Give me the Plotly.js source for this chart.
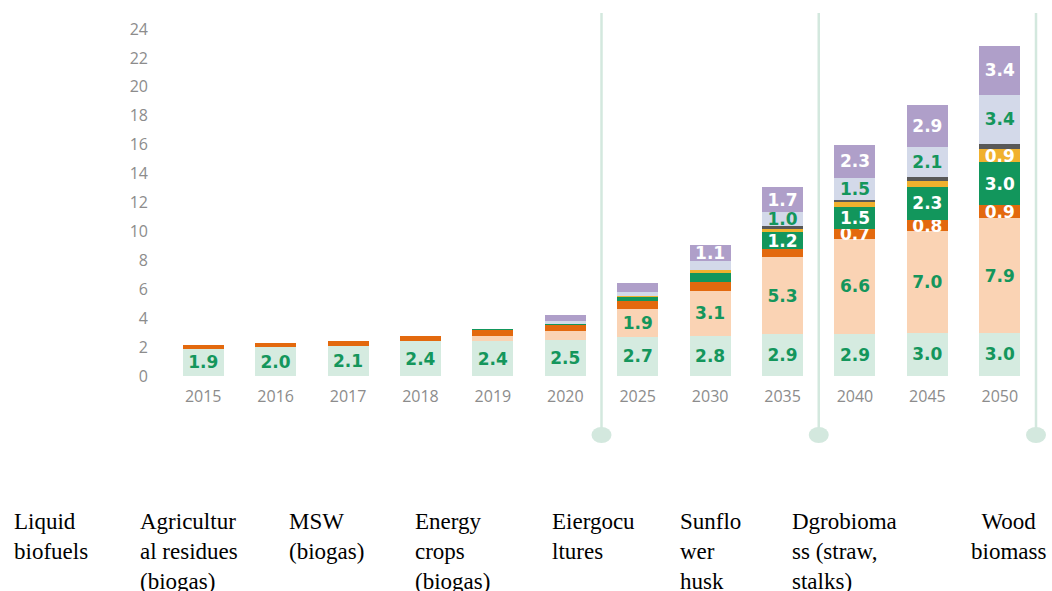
<!DOCTYPE html>
<html>
<head>
<meta charset="utf-8">
<script src="https://cdn.plot.ly/plotly-3.0.1.min.js"></script>
<style>
  html, body { margin: 0; padding: 0; background: #ffffff; }
  #chart { width: 1052px; height: 591px; }
</style>
</head>
<body>
<div id="chart"></div>
<script>
// Years on the category axis
const years = ['2015', '2016', '2017', '2018', '2019', '2020', '2025', '2030', '2035', '2040', '2045', '2050'];

// Bioenergy use by source (stacked bottom to top)
const liquidBiofuels     = [1.9, 2.0, 2.1, 2.4, 2.4, 2.5, 2.7, 2.8, 2.9, 2.9, 3.0, 3.0];
const agriResidues       = [0, 0, 0, 0, 0.35, 0.6, 1.9, 3.1, 5.3, 6.6, 7.0, 7.9];
const mswBiogas          = [0.25, 0.25, 0.35, 0.35, 0.4, 0.42, 0.57, 0.57, 0.55, 0.7, 0.8, 0.9];
const energyCropsBiogas  = [0, 0, 0, 0.05, 0.07, 0.1, 0.3, 0.68, 1.2, 1.5, 2.3, 3.0];
const energyCultures     = [0, 0, 0, 0, 0, 0, 0.03, 0.15, 0.25, 0.35, 0.4, 0.9];
const sunflowerHusk      = [0, 0, 0, 0, 0, 0, 0.04, 0.05, 0.15, 0.15, 0.25, 0.35];
const agrobiomass        = [0, 0, 0, 0, 0, 0.18, 0.3, 0.6, 1.0, 1.5, 2.1, 3.4];
const woodBiomass        = [0, 0, 0, 0, 0, 0.4, 0.58, 1.1, 1.7, 2.3, 2.9, 3.4];

// Caption lines under the chart, one entry per source
const captionLabels = [
  'Liquid<br>biofuels',
  'Agricultur<br>al residues<br>(biogas)',
  'MSW<br>(biogas)',
  'Energy<br>crops<br>(biogas)',
  'Eiergocu<br>ltures',
  'Sunflo<br>wer<br>husk',
  'Dgrobioma<br>ss (straw,<br>stalks)',
  'Wood<br>biomass'
];

// Period dividers sit after these years
const dividerAfter = ['2020', '2035', '2050'];

// ---- styling ----
const GREEN_TEXT = '#14965c';
const series = [
  { name: 'Liquid biofuels',               y: liquidBiofuels,    color: '#d5ebe0', text: GREEN_TEXT },
  { name: 'Agricultural residues (biogas)', y: agriResidues,      color: '#fad3b4', text: GREEN_TEXT },
  { name: 'MSW (biogas)',                   y: mswBiogas,         color: '#e3690e', text: '#ffffff' },
  { name: 'Energy crops (biogas)',          y: energyCropsBiogas, color: '#12965c', text: '#ffffff' },
  { name: 'Energy cultures',                y: energyCultures,    color: '#f0b12e', text: '#ffffff' },
  { name: 'Sunflower husk',                 y: sunflowerHusk,     color: '#585858', text: '#ffffff' },
  { name: 'Agrobiomass (straw, stalks)',    y: agrobiomass,       color: '#d3d9e9', text: GREEN_TEXT },
  { name: 'Wood biomass',                   y: woodBiomass,       color: '#af9fc9', text: '#ffffff' }
];

// Segments thinner than this carry no value label
const MIN_LABELLED = 0.7;
const LABEL_SIZE = 17;

const traces = series.map(s => ({
  type: 'bar',
  name: s.name,
  x: years,
  y: s.y,
  text: s.y.map(v => (v >= MIN_LABELLED ? v.toFixed(1) : '')),
  textposition: 'inside',
  insidetextanchor: 'middle',
  textangle: 0,
  constraintext: 'none',
  textfont: { family: 'DejaVu Sans', size: LABEL_SIZE, weight: 700, color: s.text },
  marker: { color: s.color, line: { width: 0 } },
  hoverinfo: 'x+y+name'
}));

// ---- geometry helpers (page pixels -> paper fractions) ----
const W = 1052, H = 591;
const M = { l: 167, r: 16, t: 29, b: 215 };
const plotW = W - M.l - M.r;
const plotH = H - M.t - M.b;
const pxX = px => (px - M.l) / plotW;
const pxY = py => (H - M.b - py) / plotH;

// Divider x position in paper units, taken from the category index
const dividerX = yr => (years.indexOf(yr) + 1) / years.length;

const LINE_COLOR = '#d3e8de';
const shapes = [];
dividerAfter.forEach(yr => {
  const xp = dividerX(yr);
  shapes.push({
    type: 'line', xref: 'paper', yref: 'paper',
    x0: xp, x1: xp, y0: pxY(13), y1: pxY(430),
    line: { color: LINE_COLOR, width: 2.5 }, layer: 'below'
  });
  shapes.push({
    type: 'circle', xref: 'paper', yref: 'paper',
    xsizemode: 'pixel', ysizemode: 'pixel',
    xanchor: xp, yanchor: pxY(435),
    x0: -10, x1: 10, y0: -8, y1: 8,
    fillcolor: LINE_COLOR, line: { width: 0 }, layer: 'below'
  });
});

// Caption placement
const captionX = [12, 138, 287, 413, 550, 678, 790, 1008];
const annotations = captionLabels.map((t, i) => {
  const last = i === captionLabels.length - 1;
  return {
    xref: 'paper', yref: 'paper',
    x: pxX(captionX[i]), y: pxY(507),
    xanchor: last ? 'center' : 'left', yanchor: 'top',
    align: last ? 'center' : 'left',
    text: t, showarrow: false,
    font: { family: 'Liberation Serif', size: 23, color: '#000000' }
  };
});

const tickFont = { family: 'Open Sans', size: 16, color: '#8c8c8c' };

const layout = {
  width: W, height: H, autosize: false,
  margin: M,
  paper_bgcolor: '#ffffff', plot_bgcolor: '#ffffff',
  barmode: 'stack',
  bargap: 0.434,
  showlegend: false,
  uniformtext: { mode: 'show', minsize: LABEL_SIZE },
  xaxis: {
    type: 'category',
    showgrid: false, zeroline: false, showline: false, ticks: '',
    tickfont: tickFont, ticklabelstandoff: 9, fixedrange: true
  },
  yaxis: {
    range: [0, 24], tick0: 0, dtick: 2,
    showgrid: false, zeroline: false, showline: false, ticks: '',
    tickfont: tickFont, ticklabelstandoff: 18, fixedrange: true
  },
  shapes: shapes,
  annotations: annotations,
  font: { family: 'Open Sans' }
};

Plotly.newPlot('chart', traces, layout, { displayModeBar: false, staticPlot: true });
</script>
</body>
</html>
